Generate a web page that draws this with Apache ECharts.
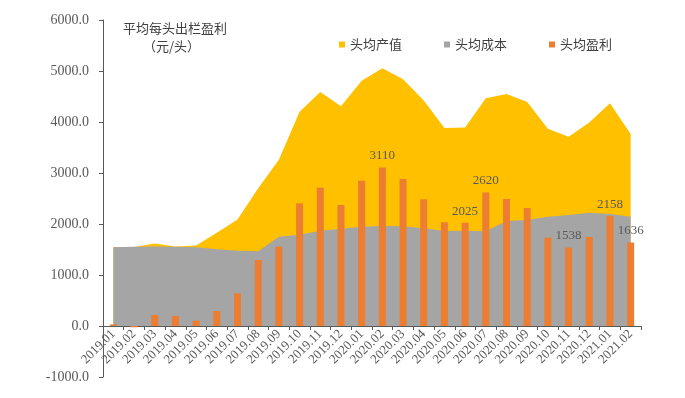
<!DOCTYPE html>
<html>
<head>
<meta charset="utf-8" />
<title>平均每头出栏盈利</title>
<style>
  html, body { margin: 0; padding: 0; background: #fff; }
  #chart { width: 685px; height: 398px; }
</style>
</head>
<body>
<div id="chart"></div>
<script src="https://cdn.jsdelivr.net/npm/echarts@6/dist/echarts.min.js"></script>
<script>
// 月份
var months = ['2019.01','2019.02','2019.03','2019.04','2019.05','2019.06','2019.07','2019.08','2019.09','2019.10','2019.11','2019.12',
  '2020.01','2020.02','2020.03','2020.04','2020.05','2020.06','2020.07','2020.08','2020.09','2020.10','2020.11','2020.12',
  '2021.01','2021.02'];
// 头均产值
var outputValue = [1550, 1550, 1620, 1560, 1580, 1830, 2090, 2700, 3260, 4200, 4590, 4310,
  4810, 5055, 4840, 4420, 3880, 3890, 4465, 4550, 4390, 3870, 3710, 3990, 4370, 3765];
// 头均成本
var cost = [1545, 1556, 1560, 1552, 1545, 1503, 1477, 1464, 1752, 1791, 1869, 1908,
  1948, 1960, 1955, 1915, 1863, 1869, 1856, 2059, 2078, 2144, 2176, 2222, 2196, 2144];
// 头均盈利
var profit = [30, -25, 216, 196, 105, 294, 640, 1294, 1556, 2405, 2712, 2373,
  2850, 3110, 2882, 2484, 2033, 2025, 2620, 2490, 2314, 1732, 1538, 1745, 2158, 1636];
// 标注数值的月份
var labelled = ['2020.02', '2020.06', '2020.07', '2020.11', '2021.01', '2021.02'];

var profitData = profit.map(function (v, i) {
  return {
    value: v,
    label: { show: labelled.indexOf(months[i]) >= 0 }
  };
});

var serif = '"Liberation Serif", "Noto Sans CJK SC", serif';
var axisColor = '#595959';

var chart = echarts.init(document.getElementById('chart'));
chart.setOption({
  animation: false,
  backgroundColor: '#fff',
  title: [
    { text: '平均每头出栏盈利', left: 118, top: 17,
      textStyle: { fontSize: 13, fontWeight: 'normal', color: '#404040', fontFamily: '"Noto Sans CJK SC"' } },
    { text: '（元/头）', left: 138, top: 35,
      textStyle: { fontSize: 13, fontWeight: 'normal', color: '#404040', fontFamily: '"Noto Sans CJK SC"' } }
  ],
  legend: {
    left: 334, top: 33,
    icon: 'rect', itemWidth: 6, itemHeight: 6, itemGap: 42,
    textStyle: { fontSize: 13, color: '#404040', fontFamily: '"Noto Sans CJK SC"' },
    data: ['头均产值', '头均成本', '头均盈利']
  },
  grid: { left: 103, right: 44, top: 20, bottom: 21, containLabel: false, outerBoundsMode: 'none' },
  xAxis: {
    type: 'category',
    data: months,
    boundaryGap: true,
    offset: -51,
    axisLine: { onZero: false, lineStyle: { color: axisColor, width: 1 } },
    axisTick: { show: true, length: 4, alignWithLabel: false, lineStyle: { color: axisColor } },
    axisLabel: { rotate: 45, interval: 0, fontSize: 13, color: axisColor, margin: 6, fontFamily: serif },
    splitLine: { show: false }
  },
  yAxis: {
    type: 'value',
    min: -1000, max: 6000, interval: 1000,
    axisLine: { show: true, lineStyle: { color: axisColor, width: 1 } },
    axisTick: { show: true, length: 4, inside: false, lineStyle: { color: axisColor } },
    axisLabel: { fontSize: 14, color: axisColor, margin: 14, fontFamily: serif,
      formatter: function (v) { return v.toFixed(1); } },
    splitLine: { show: false }
  },
  series: [
    {
      name: '头均产值', type: 'line', data: outputValue,
      symbol: 'none', lineStyle: { width: 0 },
      itemStyle: { color: '#FFC000' },
      areaStyle: { color: '#FFC000', opacity: 1, origin: 0 },
      z: 1
    },
    {
      name: '头均成本', type: 'line', data: cost,
      symbol: 'none', lineStyle: { width: 0 },
      itemStyle: { color: '#A5A5A5' },
      areaStyle: { color: '#A5A5A5', opacity: 1, origin: 0 },
      z: 2
    },
    {
      name: '头均盈利', type: 'bar', data: profitData,
      barWidth: 7,
      itemStyle: { color: '#ED7D31' },
      label: { position: 'top', distance: 5, fontSize: 13, color: '#595959', fontFamily: serif },
      z: 3
    }
  ]
});
</script>
</body>
</html>
